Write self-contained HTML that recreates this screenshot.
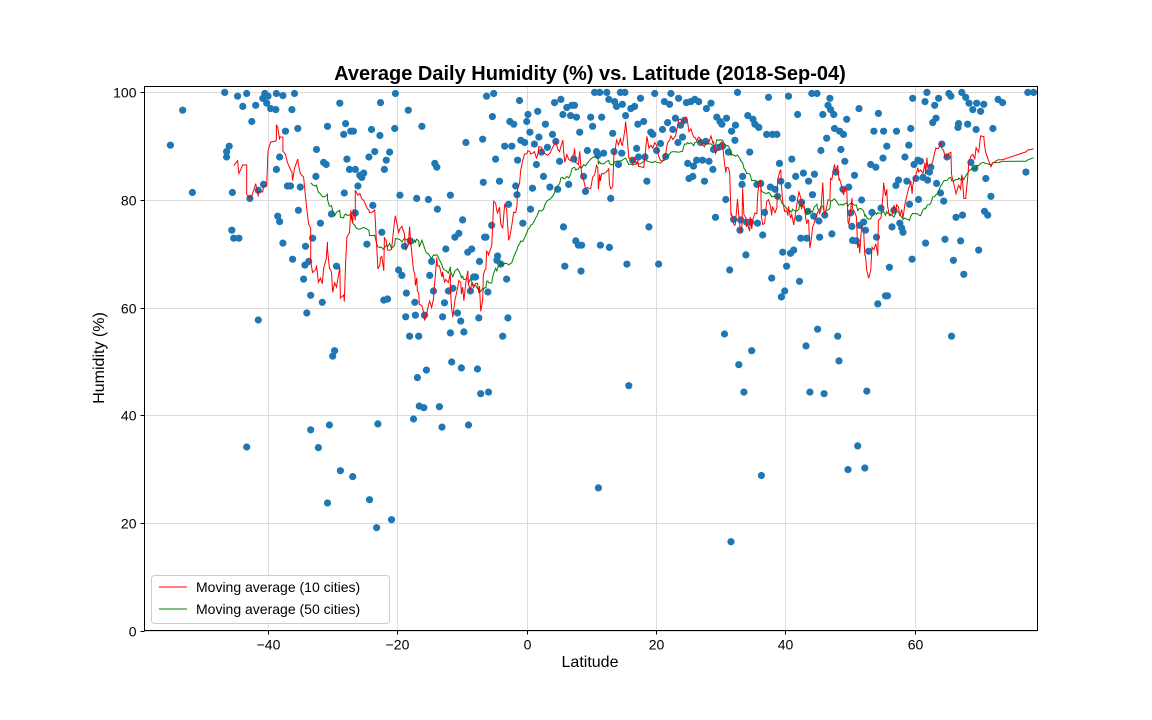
<!DOCTYPE html>
<html><head><meta charset="utf-8"><style>
html,body{margin:0;padding:0;background:#fff;}
svg{display:block;font-family:"Liberation Sans",Arial,sans-serif;}
</style></head><body>
<svg id="chart" width="1152" height="720" viewBox="0 0 1152 720">
<text x="590" y="80" text-anchor="middle" font-size="20" font-weight="bold">Average Daily Humidity (%) vs. Latitude (2018-Sep-04)</text>
<g id="grid"></g>
<g id="points"></g>
<g id="lines"></g>
<rect x="144.5" y="86.5" width="893" height="544" fill="none" stroke="#000" stroke-width="1"/>
<g id="xticks"></g>
<g id="yticks"></g>
<text x="590" y="667" text-anchor="middle" font-size="16">Latitude</text>
<text transform="translate(104,358) rotate(-90)" text-anchor="middle" font-size="16">Humidity (%)</text>
<g>
<rect x="151.5" y="575.5" width="238" height="48" rx="3" fill="#fff" fill-opacity="0.8" stroke="#ccc"/>
<line x1="159" y1="587" x2="187" y2="587" stroke="#ff0000" stroke-width="1"/>
<text x="196" y="592" font-size="14">Moving average (10 cities)</text>
<line x1="159" y1="609" x2="187" y2="609" stroke="#008000" stroke-width="1"/>
<text x="196" y="614" font-size="14">Moving average (50 cities)</text>
</g>
</svg>
<script>
const xTicks = [-40,-20,0,20,40,60];
const yTicks = [0,20,40,60,80,100];
const cityLat = [-55.1,-53.2,-51.7,-46.7,-46.4,-46.4,-46,-45.5,-45.6,-45.3,-44.5,-44.7,-43.9,-43.3,-43.3,-42.8,-42.5,-41.9,-41.5,-41.5,-40.8,-40.5,-40.7,-40.2,-40,-39.6,-38.8,-38.7,-38.7,-38.5,-38.2,-38.2,-37.7,-37.7,-37.3,-37,-36.3,-36.5,-36.2,-35.9,-35.4,-35.3,-35,-34.5,-34.3,-34.2,-34,-33.7,-33.4,-33.4,-33.1,-32.6,-32.5,-32.2,-31.9,-31.6,-31.4,-31,-30.8,-30.8,-30.5,-30.2,-30,-29.7,-29.4,-28.9,-28.8,-28.3,-28.2,-28,-27.8,-27.4,-27.2,-26.9,-26.8,-26.5,-26.5,-26.1,-25.8,-25.5,-25.2,-24.7,-24.4,-24.3,-24,-23.8,-23.5,-23.2,-23,-22.7,-22.6,-22.4,-22.1,-22,-21.7,-21.5,-21.2,-20.9,-20.4,-20.3,-19.8,-19.6,-19.3,-18.9,-18.7,-18.6,-18.3,-18.1,-18,-17.5,-17.3,-17.2,-17,-16.9,-16.7,-16.6,-16.2,-15.9,-15.8,-15.5,-15.2,-15,-14.7,-14.4,-14.2,-13.9,-13.8,-13.5,-13.1,-13,-12.7,-12.5,-12.1,-11.8,-11.8,-11.6,-11.4,-11.1,-10.7,-10.5,-10.2,-10.1,-9.9,-9.7,-9.4,-9.1,-9,-8.7,-8.5,-8.2,-7.9,-7.6,-7.4,-7.3,-7.1,-6.8,-6.7,-6.5,-6.3,-6.2,-6,-5.9,-5.4,-5.3,-5.1,-4.8,-4.6,-4.5,-4.2,-4,-3.7,-3.4,-3.1,-2.9,-2.8,-2.6,-2.3,-2,-1.7,-1.5,-1.4,-1.1,-0.9,-0.6,-0.3,0,0.2,0.5,0.6,0.9,1.2,1.5,1.7,1.9,2.3,2.6,2.9,3.2,3.6,4,4.3,4.5,4.8,5.1,5.3,5.6,5.7,5.9,6.2,6.5,6.8,7,7.3,7.4,7.6,7.7,8,8.2,8.4,8.5,8.8,9.1,9.4,9.9,10.2,10.5,10.8,11,11.1,11.3,11.4,11.6,11.9,12.4,12.7,12.8,13,13.3,13.5,13.6,13.9,14.2,14.5,14.7,14.8,15.2,15.3,15.5,15.8,16.1,16.4,16.7,17,17.2,17.3,17.6,18.1,18.3,18.6,18.9,19.2,19.5,19.8,20.1,20.4,20.7,21,21.3,21.5,21.8,22.1,22.3,22.6,23,23.4,23.5,23.8,24.1,24.4,24.7,24.9,25.1,25.4,25.7,25.8,26,26.3,26.6,26.9,27.2,27.5,27.7,27.8,28.2,28.5,28.8,28.9,29.2,29.4,29.7,29.9,30.2,30.3,30.6,30.8,30.9,31.2,31.4,31.6,31.7,32,32.2,32.3,32.6,32.8,33,33.1,33.3,33.4,33.6,33.9,34,34.2,34.5,34.6,34.8,35,35.3,35.6,35.7,35.9,36.2,36.3,36.5,36.8,37.1,37.4,37.7,37.9,38,38.4,38.7,38.8,39.1,39.3,39.4,39.6,39.9,40.2,40.4,40.5,40.8,41,41.1,41.3,41.6,41.9,42.1,42.2,42.4,42.5,42.8,43.2,43.3,43.5,43.6,43.8,44.1,44.2,44.4,44.5,44.9,45,45.2,45.3,45.5,45.8,46,46.1,46.4,46.6,46.9,47,47.2,47.5,47.6,47.8,48.1,48.3,48.4,48.6,48.9,49,49.2,49.5,49.7,49.8,50.1,50.3,50.4,50.7,51,51.2,51.4,51.5,51.8,52.1,52.3,52.4,52.6,52.9,53.2,53.4,53.7,54,54.1,54.3,54.4,54.8,55.1,55.2,55.5,55.7,55.8,56.1,56.5,56.8,57.1,57.2,57.5,57.7,58,58.2,58.5,58.8,59.1,59.2,59.4,59.6,59.7,59.9,60.2,60.5,60.6,60.9,61.3,61.6,61.7,61.9,62,62.3,62.5,62.8,63.1,63.3,63.4,63.7,64,64.2,64.5,64.7,65,65.3,65.6,65.7,66,66.4,66.7,66.8,67.1,67.3,67.4,67.6,67.9,68.2,68.4,68.7,69,69.3,69.5,69.6,69.9,70.2,70.7,70.8,71,71.3,71.8,72.1,72.9,73.6,77.2,77.5,78.4];
const cityHum = [90.2,96.7,81.4,100,89,88,90,81.4,74.4,72.9,72.9,99.3,97.4,99.8,34.1,80.3,94.6,97.6,57.7,81.8,98.9,99.8,82.9,98,99.3,97,96.8,99.8,85.7,77,76,88,99.4,72,92.8,82.6,96.8,82.6,69,99.8,93.3,78.1,82.4,65.3,67.9,71.4,59,68.6,62.3,37.3,72.9,84.4,89.4,34,75.7,61,87,86.6,93.7,23.7,38.2,77.4,51,52,67.7,98,29.7,92.2,81.3,94.2,87.6,85.7,92.8,28.6,92.8,77.6,85.7,82.6,84.6,84.2,85,71.8,88,24.3,93.1,79,89,19.1,38.4,92,98.1,74,61.4,85.7,87.4,61.6,88.9,20.6,93.3,99.8,67,80.9,66,71.4,58.3,62.7,96.7,54.7,72.4,39.3,61,58.6,80.3,47,54.7,41.7,93.7,41.4,58.6,48.4,80.1,66,68.6,63.1,86.8,86.1,78.3,41.6,37.8,58.3,60.9,70.9,63.1,80.9,55.3,49.9,63.6,73.1,59,73.8,57.5,48.8,76.3,55.5,90.7,70.3,38.2,63.1,70.9,65.7,65.7,48.6,58.1,68.6,44,91.3,83.3,73.1,73.1,99.3,62.9,44.3,75.3,95.5,99.8,87.6,68.8,69.6,83.5,68.1,54.7,90,65.3,58.1,79.2,94.6,90,94.1,82.6,81,87.4,98.5,91.1,75.7,90.7,94.6,95.9,92.6,78.3,82.2,90.4,86.6,96.5,91.7,88.9,84.4,94.1,89.8,82.4,92.2,98.1,90.9,82,87.2,98.7,95.9,75,67.7,97.2,82.9,95.7,97.6,87.6,97.6,72.4,95.4,71.6,92.6,66.8,71.6,84.4,81.6,89.2,95.4,93.7,100,89,88.3,26.5,100,71.6,95.4,88.7,100,98.7,71.2,80.3,92.4,89,98.3,97.4,86.6,100,88.7,97.8,100,95.7,68.1,45.5,97,87.4,97.4,89.6,94.1,88,98.9,94.6,88,83.5,75,92.6,92.2,99.8,89.2,68.1,90.5,93.1,98.3,88.1,94.4,97.8,99.8,93.1,95.2,90.7,98.9,93.9,91.7,94.8,98.1,86.8,84,98.3,84.4,86.3,98.7,87.4,98.3,90.7,87.4,83.5,90.9,97,87.2,98,85.7,89.4,76.8,95.4,89.8,94.6,94.1,90,55.1,80.1,95.2,88.9,67,16.5,92.8,76.4,91.1,93.9,100,49.4,74.4,76.3,82.9,84.4,44.3,69.8,75.9,95.7,88.9,75.9,52,95,94.1,82.9,75.7,93.5,83.1,28.8,73.5,77.7,92.2,99.1,82.4,65.5,92.2,82,92.2,80.7,86.8,83.5,62,70.3,63.1,67.7,82.7,99.3,70.1,87.6,80.3,70.7,84.4,95.9,76.6,64.9,72.9,79.6,85,52.9,72.9,77.9,83.5,44.3,99.8,81,77,84.8,99.8,56,76.1,73.1,89.2,95.9,44,77.2,91.5,97.6,98.9,96.8,73.7,95.9,93.3,85.2,54.7,50.1,92.8,89.4,82,92.2,87.2,95,29.9,82.4,77.6,75.1,72.5,84.6,72.4,34.3,97,75.3,80,75.9,30.2,74.4,44.5,70.5,86.6,77.7,92.8,86.1,73.1,60.7,96.1,78.5,87.8,92.8,62.2,90,62.2,67.5,75,78.1,82.7,92.8,83.7,75.7,74.8,74,88,83.5,90.2,79.2,93.3,69,98.9,86.6,84,87.4,80.1,87.2,84.2,98.3,72,100,83.7,85.2,86.1,94.4,97.6,95.2,83.1,98.9,81.3,90.4,79.8,72.7,88,99.8,99.3,54.7,68.8,76.8,93.5,94.2,72.4,100,77.2,66.2,99.1,94.1,98,87,96.8,85.9,93.1,98,70.7,96.5,97.8,77.9,84,77.2,80.7,93.3,98.7,98.1,85.2,100,100];

const NS='http://www.w3.org/2000/svg';
const L=144.5,R=1037.5,T=86.5,B=630.5;
const xMin=-59.1,xMax=79.0,yMin=0,yMax=101.1;
function sx(v){return L+(v-xMin)/(xMax-xMin)*(R-L);}
function sy(v){return B-(v-yMin)/(yMax-yMin)*(B-T);}
function mk(tag,attrs,parent){const e=document.createElementNS(NS,tag);for(const k in attrs)e.setAttribute(k,attrs[k]);parent.appendChild(e);return e;}

const grid=document.getElementById('grid');
const xt=document.getElementById('xticks');
const yt=document.getElementById('yticks');
xTicks.forEach(t=>{
  const x=Math.round(sx(t))+0.5;
  const g=mk('line',{x1:x,x2:x,y1:T,y2:B,stroke:'#dcdcdc','stroke-width':1},grid);
  
  
  const tk=mk('line',{x1:x,x2:x,y1:B,y2:B+4,stroke:'#000'},xt);
  
  
  const lb=mk('text',{x:x,y:B+19,'text-anchor':'middle','font-size':14},xt);
  lb.textContent=(t<0?'\u2212'+(-t):String(t));
  
  
});
yTicks.forEach(t=>{
  const y=Math.round(sy(t))+0.5;
  const g=mk('line',{x1:L,x2:R,y1:y,y2:y,stroke:'#dcdcdc','stroke-width':1},grid);
  
  
  const tk=mk('line',{x1:L-4,x2:L,y1:y,y2:y,stroke:'#000'},yt);
  
  
  const lb=mk('text',{x:L-8,y:y+5,'text-anchor':'end','font-size':14},yt);
  lb.textContent=String(t);
  
  
});

const pg=document.getElementById('points');
const n=Math.min(cityLat.length,cityHum.length);
const idx=[];for(let i=0;i<n;i++)idx.push(i);
idx.sort((a,b)=>cityLat[a]-cityLat[b]);
idx.forEach(i=>{
  const c=mk('circle',{cx:sx(cityLat[i]).toFixed(1),cy:sy(cityHum[i]).toFixed(1),r:3.6,fill:'#1f77b4'},pg);
  
  
});

function rolling(w){
  const pts=[];
  for(let k=w-1;k<idx.length;k++){
    let s=0;for(let j=k-w+1;j<=k;j++)s+=cityHum[idx[j]];
    pts.push(sx(cityLat[idx[k]]).toFixed(1)+','+sy(s/w).toFixed(1));
  }
  return pts.join(' ');
}
const lg=document.getElementById('lines');
const l50=mk('polyline',{points:rolling(50),fill:'none',stroke:'#008000','stroke-width':1},lg);


const l10=mk('polyline',{points:rolling(10),fill:'none',stroke:'#ff0000','stroke-width':1},lg);


</script>
</body></html>
